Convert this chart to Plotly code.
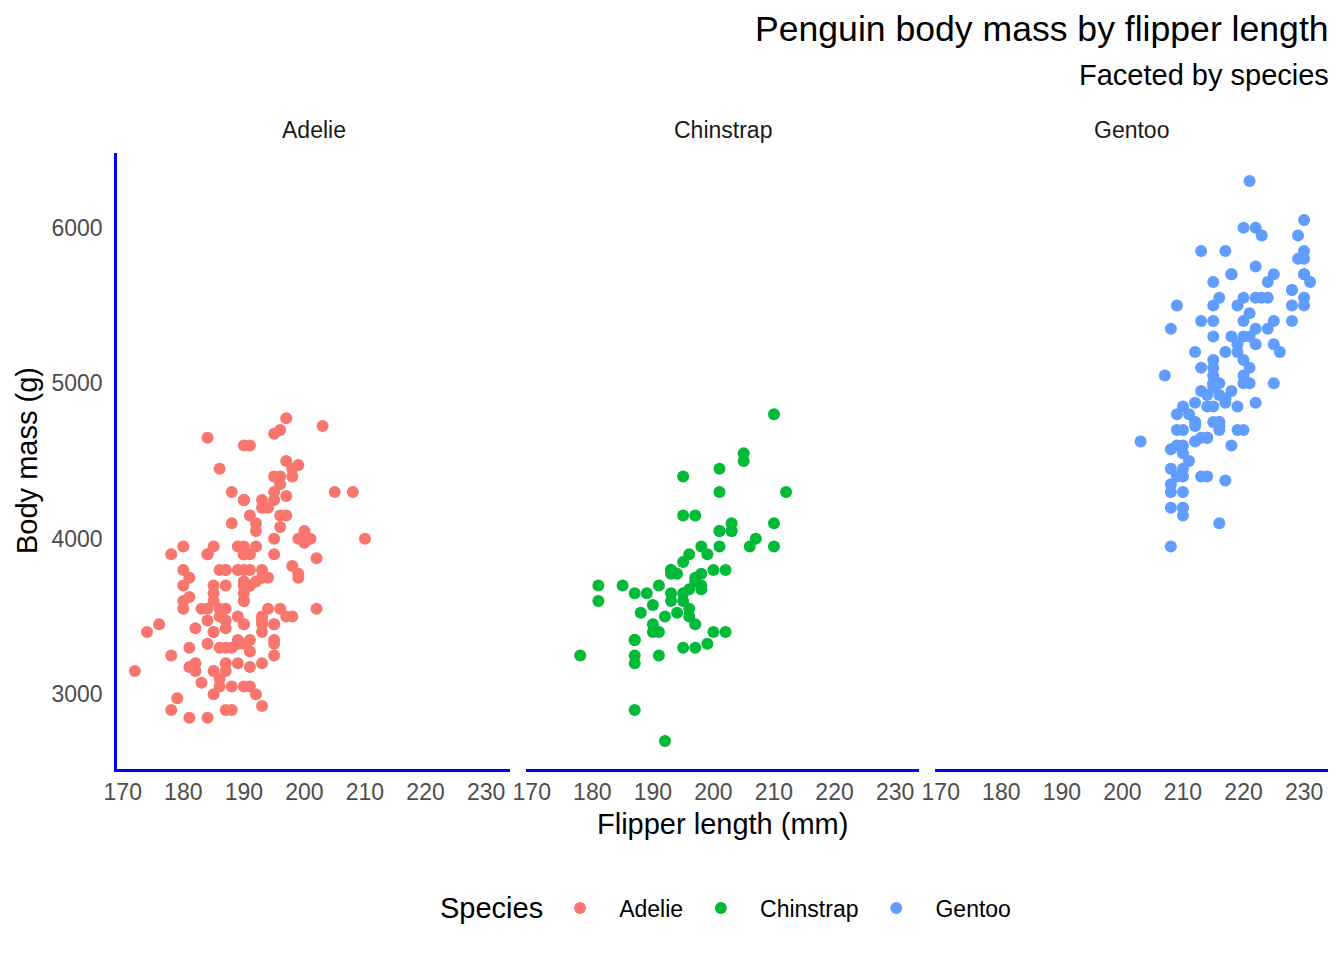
#!/usr/bin/env python3
"""
Penguin body mass by flipper length, faceted by species (Plotly).
"""
import plotly.graph_objects as go

# Adelie: flipper length (mm), body mass (g)
adelie_flipper = [181, 186, 195, 193, 190, 181, 195, 193, 190, 186, 180, 182, 191, 198, 185, 195, 197, 184, 194,
                  174, 180, 189, 185, 180, 187, 183, 187, 172, 180, 178, 178, 188, 184, 195, 196, 190, 180, 181, 184,
                  182, 195, 186, 196, 185, 190, 182, 179, 190, 191, 186, 188, 190, 200, 187, 191, 186, 193, 181, 194,
                  185, 195, 185, 192, 184, 192, 195, 188, 190, 198, 190, 190, 196, 197, 190, 195, 191, 184, 187, 195,
                  189, 196, 187, 193, 191, 194, 190, 189, 189, 190, 202, 205, 185, 186, 187, 208, 190, 196, 178, 192,
                  192, 203, 183, 190, 193, 184, 199, 190, 181, 197, 198, 191, 193, 197, 191, 196, 188, 199, 189, 189,
                  187, 198, 176, 202, 186, 199, 191, 195, 191, 210, 190, 197, 193, 199, 187, 190, 191, 200, 185, 193,
                  193, 187, 188, 190, 192, 185, 190, 184, 195, 193, 187, 201]
adelie_mass = [3750, 3800, 3250, 3450, 3650, 3625, 4675, 3475, 4250, 3300, 3700, 3200, 3800, 4400, 3700, 3450, 4500,
               3325, 4200, 3400, 3600, 3800, 3950, 3800, 3800, 3550, 3200, 3150, 3950, 3250, 3900, 3300, 3900, 3325,
               4150, 3950, 3550, 3300, 4650, 3150, 3900, 3100, 4400, 3000, 4600, 3425, 2975, 3450, 4150, 3500, 4300,
               3450, 4050, 2900, 3700, 3550, 3800, 2850, 3750, 3150, 4400, 3600, 4050, 2850, 3950, 3350, 4100, 3050,
               4450, 3600, 3900, 3550, 4150, 3700, 4250, 3700, 3900, 3550, 4000, 3200, 4700, 3800, 4200, 3350, 3550,
               3800, 3500, 3950, 3600, 3550, 4300, 3400, 4450, 3300, 4300, 3700, 4350, 2900, 4100, 3725, 4725, 3075,
               4250, 2925, 3550, 3750, 3900, 3175, 4775, 3825, 4600, 3200, 4275, 3900, 4075, 2900, 3775, 3350, 3325,
               3150, 3500, 3450, 3875, 3050, 4000, 3275, 4300, 3050, 4000, 3325, 3500, 3500, 4475, 3425, 3900, 3175,
               3975, 3400, 4250, 3400, 3475, 3050, 3725, 3000, 3650, 4250, 3475, 3450, 3750, 3700, 4000]

# Chinstrap
chinstrap_flipper = [192, 196, 193, 188, 197, 198, 178, 197, 195, 198, 193, 194, 185, 201, 190, 201, 197, 181, 190,
                     195, 181, 191, 187, 193, 195, 197, 200, 200, 191, 205, 187, 201, 187, 203, 195, 199, 195, 210,
                     192, 205, 210, 187, 196, 196, 196, 201, 190, 212, 187, 198, 199, 201, 193, 203, 187, 197, 191,
                     203, 202, 194, 206, 189, 195, 207, 202, 193, 210, 198]
chinstrap_mass = [3500, 3900, 3650, 3525, 3725, 3950, 3250, 3750, 4150, 3700, 3800, 3775, 3700, 4050, 3575, 4050,
                  3300, 3700, 3450, 4400, 3600, 3400, 2900, 3800, 3300, 4150, 3400, 3800, 3700, 4550, 3200, 4300,
                  3350, 4100, 3600, 3900, 3850, 4800, 2700, 4500, 3950, 3650, 3550, 3500, 3675, 4450, 3400, 4300,
                  3250, 3675, 3325, 3950, 3600, 4050, 3350, 3450, 3250, 4050, 3800, 3525, 3950, 3650, 3650, 4000,
                  3400, 3775, 4100, 3775]

# Gentoo
gentoo_flipper = [211, 230, 210, 218, 215, 210, 211, 219, 209, 215, 214, 216, 214, 213, 210, 217, 210, 221, 209,
                  222, 218, 215, 213, 215, 215, 215, 216, 215, 210, 220, 222, 209, 207, 230, 220, 220, 213, 219,
                  208, 208, 208, 225, 210, 216, 222, 217, 210, 225, 213, 215, 210, 220, 210, 225, 217, 220, 208,
                  220, 208, 224, 208, 221, 214, 231, 219, 230, 214, 229, 220, 223, 216, 221, 221, 217, 216, 230,
                  209, 220, 215, 223, 212, 221, 212, 224, 212, 228, 218, 218, 212, 230, 218, 228, 212, 224, 214,
                  226, 216, 222, 203, 225, 219, 228, 215, 228, 216, 215, 210, 219, 208, 209, 216, 229, 213, 230,
                  217, 230, 217, 222, 214, 215, 222, 212, 213]
gentoo_mass = [4500, 5700, 4450, 5700, 5400, 4550, 4800, 5200, 4400, 5150, 4650, 5550, 4650, 5850, 4200, 5850, 4150,
               6300, 4800, 5350, 5700, 5000, 4400, 5050, 5000, 5100, 4100, 5650, 4600, 5550, 5250, 4700, 5050, 6050,
               5150, 5400, 4950, 5250, 4350, 5350, 3950, 5700, 4300, 4750, 5550, 4900, 4200, 5400, 5100, 5300, 4850,
               5300, 4400, 5000, 4900, 5050, 4300, 5000, 4450, 5550, 4200, 5300, 4400, 5650, 4700, 5700, 4650, 5800,
               4700, 5550, 4750, 5000, 5100, 5200, 4700, 5800, 4600, 6000, 4750, 5950, 4625, 5450, 4725, 5350, 4750,
               5600, 4600, 5300, 4875, 5550, 4950, 5400, 4750, 5650, 4850, 5200, 4925, 4875, 4625, 5250, 4850, 5600,
               4975, 5500, 4725, 5500, 4700, 5500, 4575, 5500, 5000, 5950, 4650, 5500, 4375, 5850, 4875, 6000, 4925,
               4850, 5750, 5200, 5400]

species = ["Adelie", "Chinstrap", "Gentoo"]
colors = ["#F8766D", "#00BA38", "#619CFF"]
x_ticks = [170, 180, 190, 200, 210, 220, 230]
y_ticks = [3000, 4000, 5000, 6000]

series = [(adelie_flipper, adelie_mass), (chinstrap_flipper, chinstrap_mass), (gentoo_flipper, gentoo_mass)]

# page body adds an 8px margin, so target screen pixels are shifted back by OFF
OFF = 8
W, H = 1344, 960
ML = 117 - OFF
MT = 153 - OFF
MR = W - (1328 - OFF)
MB = H - (769 - OFF)
pw = W - ML - MR
ph = H - MT - MB
gap = 16
panel_w = (pw - 2 * gap) / 3
domains = [[i * (panel_w + gap) / pw, (i * (panel_w + gap) + panel_w) / pw] for i in range(3)]


def py(screen_y):
    # screen pixel y -> paper coordinate
    return ((H - MB) - (screen_y - OFF)) / ph


def px(screen_x):
    return ((screen_x - OFF) - ML) / pw


FONT = "Liberation Sans, Arial, sans-serif"
TICK_COLOR = "#4D4D4D"
NB = "\u00a0"

fig = go.Figure()
for i, (name, col, (fx, fy)) in enumerate(zip(species, colors, series)):
    suffix = "" if i == 0 else str(i + 1)
    fig.add_trace(go.Scatter(
        x=fx, y=fy, mode="markers", name=NB * 3 + name + NB * 2,
        xaxis="x" + suffix, yaxis="y" + suffix,
        marker=dict(color=col, size=12, line=dict(width=0)),
    ))

layout = dict(
    width=W, height=H,
    margin=dict(l=ML, r=MR, t=MT, b=MB),
    plot_bgcolor="white", paper_bgcolor="white",
    font=dict(family=FONT, color="black"),
    showlegend=True,
    legend=dict(
        orientation="h", x=px(560), xanchor="left", y=py(908), yanchor="middle",
        font=dict(size=23, color="black"),
        itemsizing="constant", itemwidth=30,
    ),
)

for i in range(3):
    suffix = "" if i == 0 else str(i + 1)
    layout["xaxis" + suffix] = dict(
        domain=domains[i], range=[169.05, 233.95], anchor="y" + suffix,
        tickvals=x_ticks, ticktext=[str(v) for v in x_ticks],
        showgrid=False, zeroline=False,
        showline=True, linecolor="#0000FF", linewidth=2.5,
        ticks="outside", ticklen=0.5, tickcolor="rgba(0,0,0,0)",
        tickfont=dict(size=23, color=TICK_COLOR),
    )
    layout["yaxis" + suffix] = dict(
        range=[2520, 6480], anchor="x" + suffix,
        tickvals=y_ticks, ticktext=[str(v) for v in y_ticks],
        showgrid=False, zeroline=False,
        showline=(i == 0), linecolor="#0000FF", linewidth=2.5,
        showticklabels=(i == 0),
        ticks="outside" if i == 0 else "", ticklen=7, tickcolor="rgba(0,0,0,0)",
        tickfont=dict(size=23, color=TICK_COLOR),
    )

fig.update_layout(**layout)

annotations = []
# facet strip labels
for i, name in enumerate(species):
    annotations.append(dict(
        text=name, xref="paper", yref="paper",
        x=(domains[i][0] + domains[i][1]) / 2, y=py(130),
        xanchor="center", yanchor="middle", showarrow=False,
        font=dict(size=23, color="#1A1A1A"),
    ))
# title and subtitle
annotations.append(dict(
    text="Penguin body mass by flipper length", xref="paper", yref="paper",
    x=1, y=py(29), xanchor="right", yanchor="middle", showarrow=False, xshift=3,
    font=dict(size=35.6, color="black"),
))
annotations.append(dict(
    text="Faceted by species", xref="paper", yref="paper",
    x=1, y=py(75), xanchor="right", yanchor="middle", showarrow=False, xshift=3,
    font=dict(size=29, color="black"),
))
# axis titles
annotations.append(dict(
    text="Flipper length (mm)", xref="paper", yref="paper",
    x=0.5, y=py(824), xanchor="center", yanchor="middle", showarrow=False,
    font=dict(size=29, color="black"),
))
annotations.append(dict(
    text="Body mass (g)", xref="paper", yref="paper",
    x=px(27), y=py(461), xanchor="center", yanchor="middle",
    textangle=-90, showarrow=False,
    font=dict(size=29, color="black"),
))
# legend title
annotations.append(dict(
    text="Species", xref="paper", yref="paper",
    x=px(438), y=py(908), xanchor="left", yanchor="middle", showarrow=False,
    font=dict(size=29, color="black"),
))
fig.update_layout(annotations=annotations)

fig.write_html("out.html")
